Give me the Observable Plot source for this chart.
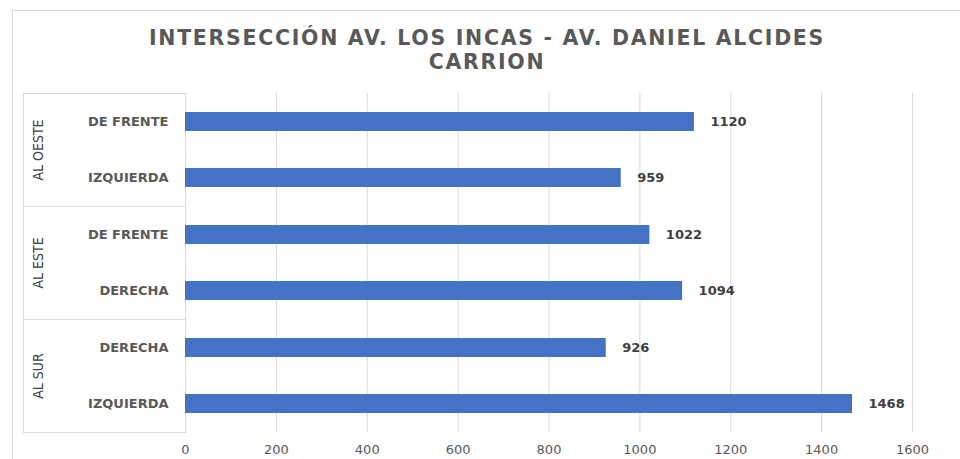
<!DOCTYPE html>
<html><head><meta charset="utf-8">
<script src="https://cdn.jsdelivr.net/npm/d3@7"></script>
<script src="https://cdn.jsdelivr.net/npm/@observablehq/plot@0.6"></script>
<style>
body{margin:0;background:#fff;}
#wrap{position:relative;width:960px;height:459px;overflow:hidden;}
#border{position:absolute;left:12px;top:10px;width:970px;height:470px;border:1px solid #d9d9d9;box-sizing:border-box;}
#title{position:absolute;left:0;top:26px;width:974px;text-align:center;font:bold 20.5px "DejaVu Sans",sans-serif;letter-spacing:1.7px;color:#595959;line-height:24px;}
#chart{position:absolute;left:0;top:0;}
</style></head><body>
<div id="wrap"><div id="border"></div><div id="title">INTERSECCIÓN AV. LOS INCAS - AV. DANIEL ALCIDES<br>CARRION</div><div id="chart"></div></div>
<script>
const groups = ["AL OESTE","AL OESTE","AL ESTE","AL ESTE","AL SUR","AL SUR"];
const directions = ["DE FRENTE","IZQUIERDA","DE FRENTE","DERECHA","DERECHA","IZQUIERDA"];
const values = [1120,959,1022,1094,926,1468];
const groupOrder = ["AL OESTE","AL ESTE","AL SUR"];
const xTicks = [0,200,400,600,800,1000,1200,1400,1600];

const data = values.map((v,i)=>({
  group: groups[i], dir: directions[i], value: v,
  slot: groups.slice(0,i).filter(g=>g===groups[i]).length
}));

const W=960,H=459,mL=185,mR=48,mT=92,mB=27;
const plot = Plot.plot({
  width:W,height:H,marginLeft:mL,marginRight:mR,marginTop:mT,marginBottom:mB,
  style:{background:"transparent",overflow:"visible",fontFamily:"'DejaVu Sans',sans-serif"},
  x:{domain:[0,1600],ticks:xTicks,axis:null},
  y:{type:"band",domain:[0,1],paddingInner:0.665,paddingOuter:0.3325,axis:null},
  fy:{domain:groupOrder,padding:0,axis:null},
  marks:[
    Plot.gridX(xTicks,{stroke:"#d9d9d9",strokeOpacity:1,strokeWidth:1}),
    Plot.frame({stroke:"#d9d9d9",strokeOpacity:1,insetLeft:-(mL-23),insetRight:W-mL-mR}),
    Plot.barX(data,{fy:"group",y:"slot",x:"value",fill:"#4472C4"}),
    Plot.text(data,{fy:"group",y:"slot",x:"value",text:d=>String(d.value),textAnchor:"start",dx:16,
      fill:"#404040",fontWeight:"bold",fontSize:13,letterSpacing:1.3,fontFamily:"'DejaVu Sans',sans-serif"}),
    Plot.text(data,{fy:"group",y:"slot",text:"dir",frameAnchor:"left",textAnchor:"end",dx:-17,
      fill:"#595959",fontWeight:"bold",fontSize:13,letterSpacing:1.2,fontFamily:"'DejaVu Sans',sans-serif"}),
    Plot.text(groupOrder,{fy:d=>d,text:d=>d,frameAnchor:"left",textAnchor:"middle",dx:-147,rotate:-90,
      fill:"#404040",fontSize:14,fontFamily:"'DejaVu Sans Condensed','DejaVu Sans',sans-serif"}),
    Plot.axisX({ticks:xTicks,tickSize:0,tickPadding:12,fontSize:13,letterSpacing:1.5,fill:"#595959",
      tickFormat:d=>String(d),label:null})
  ]
});
document.getElementById("chart").appendChild(plot);
</script>
</body></html>
